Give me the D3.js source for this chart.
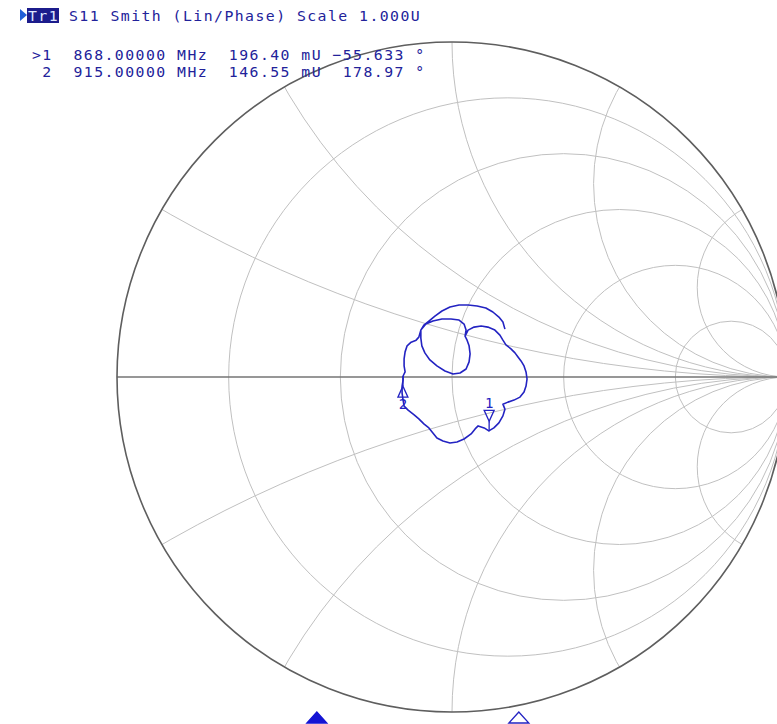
<!DOCTYPE html>
<html>
<head>
<meta charset="utf-8">
<script src="https://cdn.jsdelivr.net/npm/d3@7"></script>
<style>
  html, body { margin: 0; padding: 0; background: #fff; }
  svg { display: block; }
  text { font-family: "DejaVu Sans Mono", "Liberation Mono", monospace; white-space: pre; }
</style>
</head>
<body>
<svg id="chart" width="777" height="724"></svg>
<script>
// ---- data ----
const traceName = 'Tr1';
const titleText = 'S11 Smith (Lin/Phase) Scale 1.000U';

// grid: constant resistance circles and constant reactance arcs
const resistanceValues = [0.2, 0.5, 1, 2, 5];
const reactanceValues = [0.268, 0.577, 1, 1.732, 3.732];

// markers
const markerIds = [1, 2];
const markerFreqs = [868, 915];          // MHz
const markerMags = [196.40, 146.55];     // mU
const markerPhases = [-55.633, 178.97];  // deg
const activeMarker = 1;

// stimulus span used for the marker ticks under the chart
const stimStart = 821.5, stimStop = 977.4;

// S11 trace, reflection coefficient (real / imaginary)
const traceRe = [0.158, 0.152, 0.140, 0.122, 0.101, 0.075, 0.048, 0.021, -0.006, -0.030, -0.051, -0.069, -0.084, -0.093,
  -0.093, -0.090, -0.081, -0.066, -0.045, -0.021, 0.003, 0.024, 0.042, 0.051, 0.054, 0.051, 0.045, 0.039,
  0.048, 0.066, 0.087, 0.107, 0.128, 0.143, 0.152, 0.161, 0.176, 0.188, 0.197, 0.206, 0.215, 0.221, 0.224,
  0.221, 0.215, 0.203, 0.185, 0.167, 0.152, 0.158, 0.152, 0.140, 0.125, 0.110, 0.096, 0.078, 0.069, 0.057,
  0.036, 0.015, -0.006, -0.027, -0.045, -0.057, -0.069, -0.084, -0.099, -0.113, -0.131, -0.143, -0.146,
  -0.149, -0.149, -0.146, -0.146, -0.140, -0.143, -0.143, -0.140, -0.134, -0.122, -0.107, -0.099, -0.093,
  -0.078, -0.057, -0.030, -0.003, 0.021, 0.036, 0.042, 0.039];
const traceIm = [0.143, 0.164, 0.179, 0.194, 0.206, 0.212, 0.215, 0.215, 0.209, 0.197, 0.182, 0.167, 0.155, 0.140,
  0.116, 0.093, 0.072, 0.051, 0.033, 0.018, 0.009, 0.012, 0.024, 0.045, 0.069, 0.093, 0.110, 0.122,
  0.140, 0.149, 0.152, 0.149, 0.140, 0.125, 0.110, 0.096, 0.084, 0.072, 0.060, 0.048, 0.033, 0.015, -0.006,
  -0.027, -0.045, -0.060, -0.069, -0.075, -0.081, -0.096, -0.116, -0.137, -0.152, -0.161, -0.152, -0.146, -0.155, -0.170,
  -0.185, -0.194, -0.197, -0.191, -0.182, -0.167, -0.152, -0.140, -0.125, -0.113, -0.099, -0.087, -0.069,
  -0.048, -0.027, -0.009, 0.003, 0.015, 0.033, 0.054, 0.075, 0.093, 0.104, 0.110, 0.119, 0.140,
  0.158, 0.167, 0.173, 0.173, 0.170, 0.158, 0.140, 0.122];

// ---- drawing ----
const svg = d3.select('#chart');
const blue = '#2323c2';
const textBlue = '#22229a';
const fontSize = 14.8;
const spacing = 1.45; // keeps the ~10.3px character cell of the screen font

const x = d3.scaleLinear().domain([-1, 1]).range([117, 787]);
const y = d3.scaleLinear().domain([-1, 1]).range([712, 42]);
const rad = v => x(v) - x(0);
const stimX = d3.scaleLinear().domain([stimStart, stimStop]).range([117, 787]);

svg.append('defs').append('clipPath').attr('id', 'unit')
  .append('circle').attr('cx', x(0)).attr('cy', y(0)).attr('r', rad(1));

const grid = svg.append('g').attr('clip-path', 'url(#unit)')
  .attr('fill', 'none').attr('stroke', '#c0c0c0').attr('stroke-width', 1);

grid.selectAll('circle.res')
  .data(resistanceValues)
  .enter().append('circle')
  .attr('class', 'res')
  .attr('cx', r => x(r / (1 + r)))
  .attr('cy', y(0))
  .attr('r', r => rad(1 / (1 + r)));

const reactAll = reactanceValues.flatMap(v => [v, -v]);
grid.selectAll('circle.react')
  .data(reactAll)
  .enter().append('circle')
  .attr('class', 'react')
  .attr('cx', x(1))
  .attr('cy', v => y(1 / v))
  .attr('r', v => rad(1 / Math.abs(v)));

// real axis and outer circle
svg.append('line')
  .attr('x1', x(-1)).attr('x2', x(1))
  .attr('y1', y(0)).attr('y2', y(0))
  .attr('stroke', '#747474').attr('stroke-width', 1.3);

svg.append('circle')
  .attr('cx', x(0)).attr('cy', y(0)).attr('r', rad(1))
  .attr('fill', 'none').attr('stroke', '#5e5e5e').attr('stroke-width', 1.6);

// trace
const pts = traceRe.map((re, i) => [re, traceIm[i]]);
svg.append('path')
  .datum(pts)
  .attr('fill', 'none')
  .attr('stroke', blue)
  .attr('stroke-width', 1.6)
  .attr('stroke-linejoin', 'round')
  .attr('d', d3.line().x(d => x(d[0])).y(d => y(d[1])));

// markers on the trace
markerIds.forEach((id, i) => {
  const g = markerMags[i] / 1000;
  const ph = markerPhases[i] * Math.PI / 180;
  const px = x(g * Math.cos(ph));
  const py = y(g * Math.sin(ph));
  const dir = id === activeMarker ? -1 : 1; // marker 2 sits below its point
  const m = svg.append('g').attr('fill', 'none').attr('stroke', blue).attr('stroke-width', 1.3);
  m.append('line').attr('x1', px).attr('x2', px).attr('y1', py).attr('y2', py + dir * 10);
  m.append('path').attr('d', `M${px},${py + dir * 10} L${px - 5},${py + dir * 21} L${px + 5},${py + dir * 21} Z`);
  svg.append('text')
    .attr('x', px).attr('y', dir < 0 ? py - 23 : py + 33)
    .attr('text-anchor', 'middle')
    .attr('font-size', 14).attr('fill', blue)
    .text(id);
});

// marker position ticks on the stimulus axis
markerIds.forEach((id, i) => {
  const tx = stimX(markerFreqs[i]);
  svg.append('path')
    .attr('d', `M${tx},712 L${tx - 10},723 L${tx + 10},723 Z`)
    .attr('fill', id === activeMarker ? '#1414d4' : 'none')
    .attr('stroke', id === activeMarker ? '#1414d4' : blue)
    .attr('stroke-width', 1.3);
});

// header
svg.append('path').attr('d', 'M20,9 L27,15 L20,21 Z').attr('fill', '#1f5fd8');
svg.append('rect').attr('x', 27).attr('y', 8).attr('width', 32).attr('height', 15).attr('fill', '#1c1c8c');
svg.append('text').attr('x', 28).attr('y', 20.5).attr('font-size', fontSize).attr('letter-spacing', spacing)
  .attr('fill', '#dfe6ff').text(traceName);
svg.append('text').attr('x', 69).attr('y', 20.5).attr('font-size', fontSize).attr('letter-spacing', spacing)
  .attr('fill', textBlue).text(titleText);

const fmtPhase = v => d3.format('.5')(v).padStart(7, ' ');
markerIds.forEach((id, i) => {
  const line = `${id === activeMarker ? '>' : ' '}${id}  ${markerFreqs[i].toFixed(5)} MHz  ${markerMags[i].toFixed(2)} mU ${fmtPhase(markerPhases[i])} °`;
  svg.append('text')
    .attr('x', 32).attr('y', 60 + i * 17.4)
    .attr('font-size', fontSize).attr('letter-spacing', spacing)
    .attr('fill', textBlue)
    .text(line);
});
</script>
</body>
</html>
